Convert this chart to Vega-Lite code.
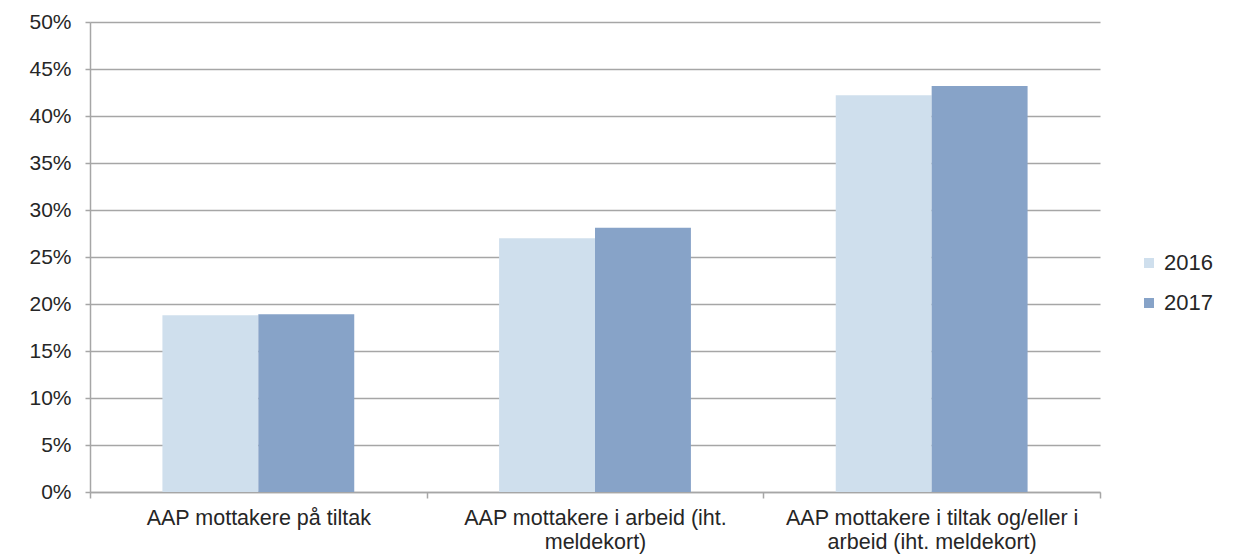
{
  "$schema": "https://vega.github.io/schema/vega-lite/v6.json",
  "width": 1010,
  "height": 470,
  "autosize": {"type": "none"},
  "padding": {"left": 90, "top": 22, "right": 137, "bottom": 62},
  "background": "white",
  "data": {
    "values": [
      {"kategori": "AAP mottakere på tiltak", "år": "2016", "andel": 0.188},
      {"kategori": "AAP mottakere på tiltak", "år": "2017", "andel": 0.189},
      {"kategori": "AAP mottakere i arbeid (iht. meldekort)", "år": "2016", "andel": 0.270},
      {"kategori": "AAP mottakere i arbeid (iht. meldekort)", "år": "2017", "andel": 0.281},
      {"kategori": "AAP mottakere i tiltak og/eller i arbeid (iht. meldekort)", "år": "2016", "andel": 0.422},
      {"kategori": "AAP mottakere i tiltak og/eller i arbeid (iht. meldekort)", "år": "2017", "andel": 0.432}
    ]
  },
  "mark": {"type": "bar"},
  "encoding": {
    "x": {
      "field": "kategori",
      "type": "nominal",
      "sort": null,
      "scale": {"paddingInner": 0, "paddingOuter": 0},
      "axis": {
        "title": null,
        "labelAngle": 0,
        "tickBand": "extent",
        "tickSize": 6,
        "tickColor": "#a6a6a6",
        "tickWidth": 1.5,
        "domainColor": "#a6a6a6",
        "domainWidth": 1.5,
        "labelPadding": 9,
        "labelFont": "Liberation Sans",
        "labelFontSize": 21.5,
        "labelColor": "#262626",
        "labelLineHeight": 24,
        "labelLimit": 400,
        "labelExpr": "datum.label == 'AAP mottakere i arbeid (iht. meldekort)' ? ['AAP mottakere i arbeid (iht.', 'meldekort)'] : datum.label == 'AAP mottakere i tiltak og/eller i arbeid (iht. meldekort)' ? ['AAP mottakere i tiltak og/eller i', 'arbeid (iht. meldekort)'] : datum.label"
      }
    },
    "xOffset": {"field": "år", "type": "nominal", "scale": {"paddingInner": 0, "paddingOuter": 0.755}},
    "y": {
      "field": "andel",
      "type": "quantitative",
      "scale": {"domain": [0, 0.5], "nice": false},
      "axis": {
        "title": null,
        "values": [0, 0.05, 0.1, 0.15, 0.2, 0.25, 0.3, 0.35, 0.4, 0.45, 0.5],
        "format": ".0%",
        "grid": true,
        "gridColor": "#a6a6a6",
        "gridWidth": 1.5,
        "tickSize": 5,
        "tickColor": "#a6a6a6",
        "tickWidth": 1.5,
        "domainColor": "#a6a6a6",
        "domainWidth": 1.5,
        "labelPadding": 14,
        "labelFont": "Liberation Sans",
        "labelFontSize": 21,
        "labelColor": "#262626"
      }
    },
    "color": {
      "field": "år",
      "type": "nominal",
      "scale": {"domain": ["2016", "2017"], "range": ["#cfdfed", "#87a3c8"]},
      "legend": {
        "title": null,
        "orient": "none",
        "legendX": 1048,
        "legendY": 230,
        "symbolType": "square",
        "symbolSize": 100,
        "symbolStrokeWidth": 0,
        "labelOffset": 4,
        "labelFont": "Liberation Sans",
        "labelFontSize": 22,
        "labelColor": "#262626",
        "rowPadding": 18
      }
    }
  },
  "config": {"view": {"stroke": null}}
}
